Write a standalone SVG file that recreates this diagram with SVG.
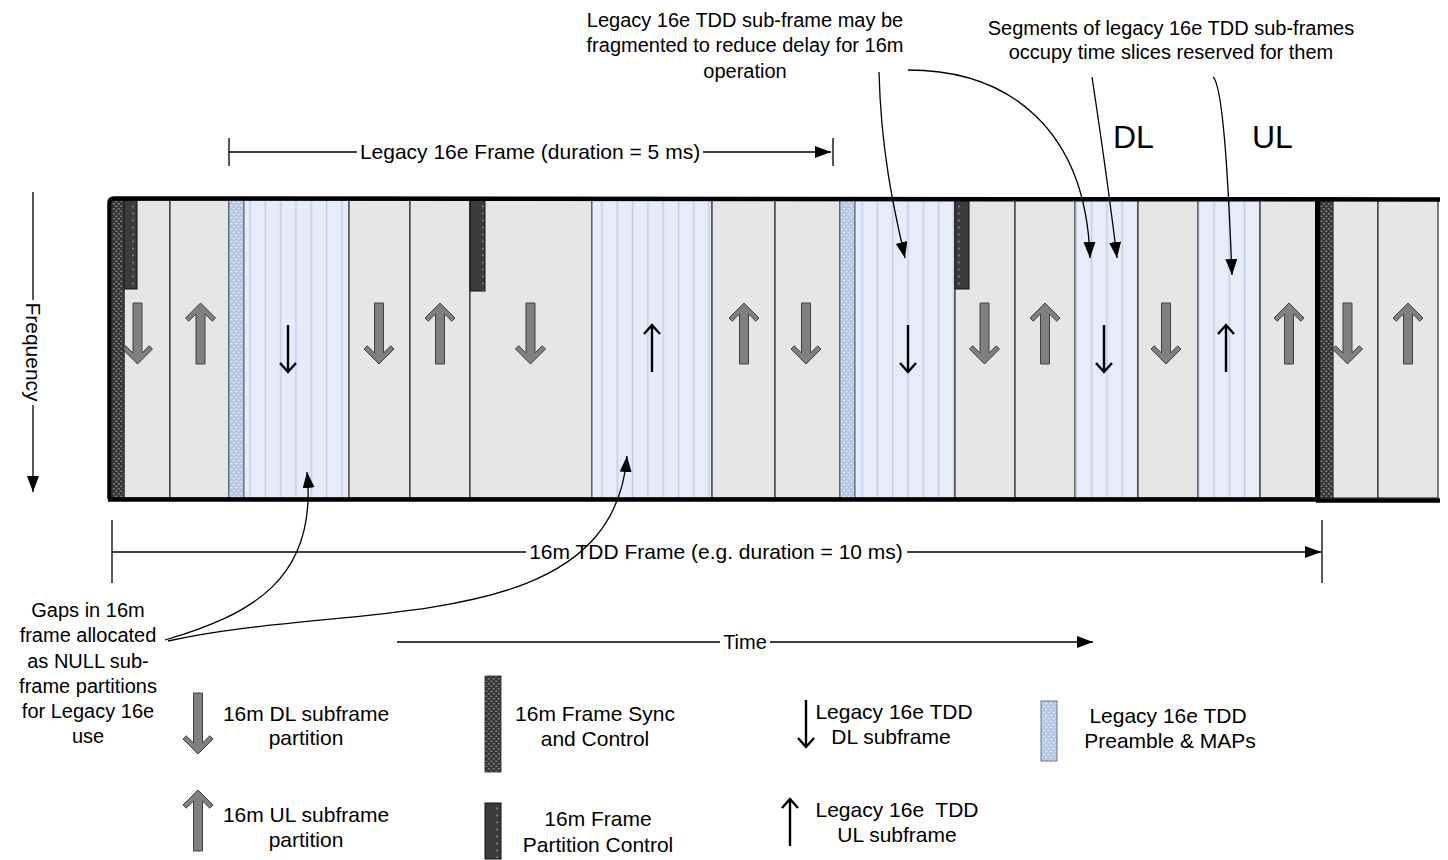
<svg xmlns="http://www.w3.org/2000/svg" width="1448" height="860" viewBox="0 0 1448 860">
<style>
text{font-family:"Liberation Sans",Arial,sans-serif;fill:#000}
.t20{font-size:20px}
.t21{font-size:21px}
.big{font-size:32px}
.gc{fill:#e6e6e6;stroke:#3a3a3a;stroke-width:1.3}
.bc{fill:url(#stripe);stroke:#555;stroke-width:1}
.pre{fill:url(#prePat);stroke:#4a5a70;stroke-width:0.8}
.sync{fill:url(#syncPat);stroke:#222;stroke-width:0.8}
.part{fill:url(#partPat);stroke:#111;stroke-width:1}
.garr{fill:#808080;stroke:#404040;stroke-width:1}
.larr{fill:none;stroke:#000;stroke-width:2.4;stroke-linecap:butt}
.ln{fill:none;stroke:#000;stroke-width:1.3}
.thick{fill:none;stroke:#000;stroke-width:4.5}
</style>
<defs>
<pattern id="stripe" width="15.3" height="20" patternUnits="userSpaceOnUse">
<rect width="15.3" height="20" fill="#e6edf8"/>
<rect x="4.5" width="1.6" height="20" fill="#bfd0ea"/>
</pattern>
<pattern id="prePat" width="5" height="6" patternUnits="userSpaceOnUse">
<rect width="5" height="6" fill="#b4c7e7"/>
<ellipse cx="1.3" cy="1.5" rx="1.2" ry="0.7" fill="#e8eef8"/>
<ellipse cx="3.8" cy="4.5" rx="1.2" ry="0.7" fill="#e8eef8"/>
</pattern>
<pattern id="syncPat" width="5" height="5" patternUnits="userSpaceOnUse">
<rect width="5" height="5" fill="#353535"/>
<ellipse cx="1.3" cy="1.3" rx="1.3" ry="0.8" fill="#8a8a8a"/>
<ellipse cx="3.8" cy="3.8" rx="1.3" ry="0.8" fill="#8a8a8a"/>
</pattern>
<pattern id="partPat" width="14" height="7" patternUnits="userSpaceOnUse">
<rect width="14" height="7" fill="#3c3c3c"/>
<circle cx="7" cy="3.5" r="0.9" fill="#8c8c8c"/>
</pattern>
<path id="dl" d="M-4.5,0 L4.5,0 L4.5,50 L11.8,42.8 L15,46 L0,61 L-15,46 L-11.8,42.8 L-4.5,50 Z"/>
<path id="ul" d="M-4.5,61 L4.5,61 L4.5,11 L11.8,18.2 L15,15 L0,0 L-15,15 L-11.8,18.2 L-4.5,11 Z"/>
<g id="ldl"><path d="M0,0 L0,47 M-8,38 L0,47 L8,38"/></g>
<g id="lul"><path d="M0,47 L0,0 M-8,9 L0,0 L8,9"/></g>
<marker id="ah" markerUnits="userSpaceOnUse" markerWidth="18" markerHeight="13" refX="16" refY="6" orient="auto">
<path d="M0,0 L16,6 L0,12 Z" fill="#000"/>
</marker>
</defs>

<g id="columns">
<g id="c1"><rect class="gc" x="124" y="200" width="46" height="298"/><use href="#dl" class="garr" x="137.5" y="303"/></g>
<g id="sync1"><rect class="sync" x="112" y="200" width="12" height="298"/></g>
<g id="part1"><rect class="part" x="124" y="200" width="13" height="89"/></g>
<g id="c2"><rect class="gc" x="170" y="200" width="59" height="298"/><use href="#ul" class="garr" x="200.5" y="303"/></g>
<g id="pre1"><rect class="pre" x="229" y="200" width="15" height="298"/></g>
<g id="c3"><rect class="bc" x="244" y="200" width="105" height="298"/><use href="#ldl" class="larr" x="288" y="325"/></g>
<g id="c4"><rect class="gc" x="349" y="200" width="61" height="298"/><use href="#dl" class="garr" x="379" y="303"/></g>
<g id="c5"><rect class="gc" x="410" y="200" width="60" height="298"/><use href="#ul" class="garr" x="440" y="303"/></g>
<g id="c6"><rect class="gc" x="470" y="200" width="122" height="298"/><use href="#dl" class="garr" x="530.5" y="303"/></g>
<g id="part2"><rect class="part" x="470" y="200" width="15" height="91"/></g>
<g id="c7"><rect class="bc" x="592" y="200" width="120" height="298"/><use href="#lul" class="larr" x="652" y="325"/></g>
<g id="c8"><rect class="gc" x="712" y="200" width="63" height="298"/><use href="#ul" class="garr" x="744" y="303"/></g>
<g id="c9"><rect class="gc" x="775" y="200" width="65" height="298"/><use href="#dl" class="garr" x="806" y="303"/></g>
<g id="pre2"><rect class="pre" x="840" y="200" width="15" height="298"/></g>
<g id="c10"><rect class="bc" x="855" y="200" width="100" height="298"/><use href="#ldl" class="larr" x="908" y="325"/></g>
<g id="c11"><rect class="gc" x="955" y="200" width="60" height="298"/><use href="#dl" class="garr" x="984.5" y="303"/></g>
<g id="part3"><rect class="part" x="955" y="200" width="14" height="89"/></g>
<g id="c12"><rect class="gc" x="1015" y="200" width="60" height="298"/><use href="#ul" class="garr" x="1045" y="303"/></g>
<g id="c13"><rect class="bc" x="1075" y="200" width="63" height="298"/><use href="#ldl" class="larr" x="1104" y="325"/></g>
<g id="c14"><rect class="gc" x="1138" y="200" width="60" height="298"/><use href="#dl" class="garr" x="1166" y="303"/></g>
<g id="c15"><rect class="bc" x="1198" y="200" width="62" height="298"/><use href="#lul" class="larr" x="1226" y="325"/></g>
<g id="c16"><rect class="gc" x="1260" y="200" width="56" height="298"/><use href="#ul" class="garr" x="1289" y="303"/></g>
<g id="sync2"><rect class="sync" x="1320" y="200" width="13" height="298"/></g>
<g id="c17"><rect class="gc" x="1333" y="200" width="45" height="298"/><use href="#dl" class="garr" x="1347.5" y="303"/></g>
<g id="c18"><rect class="gc" x="1378" y="200" width="60" height="298"/><use href="#ul" class="garr" x="1408" y="303"/></g>
</g>

<g id="frame">
<path class="thick" d="M109.5,499 L109.5,203 Q109.5,198.5 114,198.5 L1440,199.5"/>
<path class="thick" d="M108,499.5 L1318,499.5 M1316,500.5 L1440,500.5"/>
<rect x="1315" y="198" width="5" height="303" fill="#000"/>
</g>

<g id="connectors">
<path class="ln" d="M229,138 L229,166 M833,138 L833,166"/>
<path class="ln" d="M229,152 L357,152"/>
<path class="ln" d="M703,152 L831,152" marker-end="url(#ah)"/>
<path class="ln" d="M112,520 L112,583 M1322,520 L1322,583"/>
<path class="ln" d="M112,552 L526,552"/>
<path class="ln" d="M907,552 L1321,552" marker-end="url(#ah)"/>
<path class="ln" d="M397,642 L720,642"/>
<path class="ln" d="M770,642 L1093,642" marker-end="url(#ah)"/>
<path class="ln" d="M33,192 L33,300"/>
<path class="ln" d="M33,405 L33,492" marker-end="url(#ah)"/>
<path class="ln" d="M879,72 C881,150 893,205 905,258" marker-end="url(#ah)"/>
<path class="ln" d="M908,70 C1010,70 1086,130 1090,258" marker-end="url(#ah)"/>
<path class="ln" d="M1092,77 C1100,130 1110,200 1117,258" marker-end="url(#ah)"/>
<path class="ln" d="M1213,77 C1224,86 1229,200 1232,275" marker-end="url(#ah)"/>
<path class="ln" d="M165,640 C250,615 318,580 307,472" marker-end="url(#ah)"/>
<path class="ln" d="M168,641 C350,600 612,640 627,456" marker-end="url(#ah)"/>
</g>

<g id="labels">
<text class="t20" text-anchor="middle" x="745" y="27">Legacy 16e TDD sub-frame may be</text>
<text class="t20" text-anchor="middle" x="745" y="52">fragmented to reduce delay for 16m</text>
<text class="t20" text-anchor="middle" x="745" y="78">operation</text>
<text class="t20" text-anchor="middle" x="1171" y="35">Segments of legacy 16e TDD sub-frames</text>
<text class="t20" text-anchor="middle" x="1171" y="59">occupy time slices reserved for them</text>
<text class="big" x="1113" y="148">DL</text>
<text class="big" x="1252" y="148">UL</text>
<text class="t21" text-anchor="middle" x="530" y="159">Legacy 16e Frame (duration = 5 ms)</text>
<text class="t21" text-anchor="middle" x="716" y="559">16m TDD Frame (e.g. duration = 10 ms)</text>
<text class="t20" text-anchor="middle" x="745" y="649">Time</text>
<text class="t21" text-anchor="middle" transform="translate(26,352) rotate(90)">Frequency</text>
<text class="t20" text-anchor="middle" x="88" y="617">Gaps in 16m</text>
<text class="t20" text-anchor="middle" x="88" y="642">frame allocated</text>
<text class="t20" text-anchor="middle" x="88" y="668">as NULL sub-</text>
<text class="t20" text-anchor="middle" x="88" y="693">frame partitions</text>
<text class="t20" text-anchor="middle" x="88" y="718">for Legacy 16e</text>
<text class="t20" text-anchor="middle" x="88" y="743">use</text>
</g>

<g id="legend">
<g id="lg-dl"><use href="#dl" class="garr" x="198" y="693"/>
<text class="t21" text-anchor="middle" x="306" y="721">16m DL subframe</text>
<text class="t21" text-anchor="middle" x="306" y="745">partition</text></g>
<g id="lg-ul"><use href="#ul" class="garr" x="198" y="790"/>
<text class="t21" text-anchor="middle" x="306" y="822">16m UL subframe</text>
<text class="t21" text-anchor="middle" x="306" y="847">partition</text></g>
<g id="lg-sync"><rect class="sync" x="485" y="676" width="16" height="96"/>
<text class="t21" text-anchor="middle" x="595" y="721">16m Frame Sync</text>
<text class="t21" text-anchor="middle" x="595" y="746">and Control</text></g>
<g id="lg-part"><rect class="part" x="485" y="803" width="16" height="56"/>
<text class="t21" text-anchor="middle" x="598" y="826">16m Frame</text>
<text class="t21" text-anchor="middle" x="598" y="852">Partition Control</text></g>
<g id="lg-ldl"><use href="#ldl" class="larr" x="806" y="700"/>
<text class="t21" text-anchor="middle" x="894" y="719">Legacy 16e TDD</text>
<text class="t21" text-anchor="middle" x="891" y="744">DL subframe</text></g>
<g id="lg-lul"><use href="#lul" class="larr" x="790" y="799"/>
<text class="t21" text-anchor="middle" x="897" y="817" xml:space="preserve">Legacy 16e  TDD</text>
<text class="t21" text-anchor="middle" x="897" y="842">UL subframe</text></g>
<g id="lg-pre"><rect class="pre" x="1041" y="701" width="16" height="60"/>
<text class="t21" text-anchor="middle" x="1168" y="723">Legacy 16e TDD</text>
<text class="t21" text-anchor="middle" x="1170" y="748">Preamble &amp; MAPs</text></g>
</g>
</svg>
